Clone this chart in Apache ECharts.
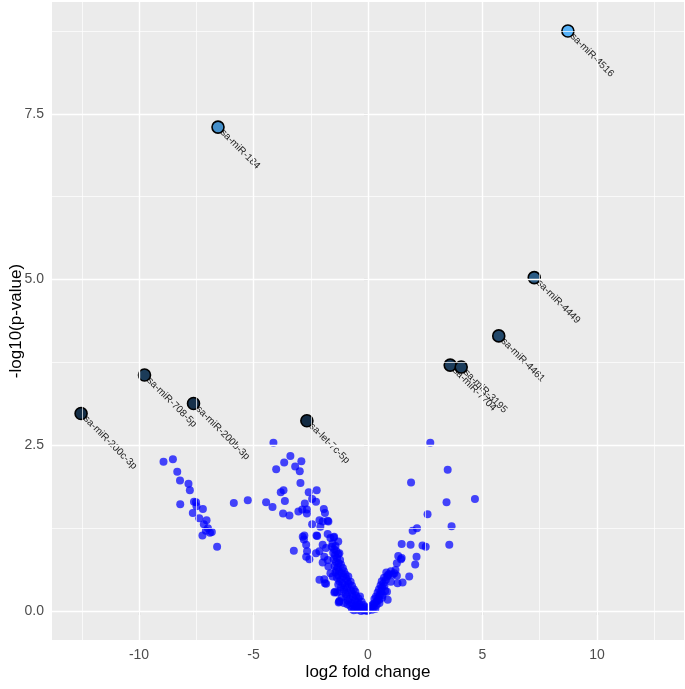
<!DOCTYPE html>
<html>
<head>
<meta charset="utf-8">
<script src="https://cdn.jsdelivr.net/npm/echarts@6/dist/echarts.min.js"></script>
<style>
  html, body { margin: 0; padding: 0; background: #fff; }
  #chart { width: 685px; height: 689px; }
</style>
</head>
<body>
<div id="chart"></div>
<script>
// labelled miRNAs (log2 fold change, -log10 p)
const hitNames = ['hsa-miR-4516', 'hsa-miR-184', 'hsa-miR-4449', 'hsa-miR-4461', 'hsa-miR-7704',
  'hsa-miR-3195', 'hsa-miR-708-5p', 'hsa-miR-200b-3p', 'hsa-miR-200c-3p', 'hsa-let-7c-5p']
const hitFc = [8.73, -6.55, 7.26, 5.71, 3.59, 4.07, -9.76, -7.62, -12.53, -2.67]
const hitP = [8.75, 7.30, 5.03, 4.15, 3.71, 3.68, 3.56, 3.13, 2.98, 2.87]

// everything else, [log2 fc, -log10 p]
const otherPoints = [
  [-8.93, 2.25], [-8.52, 2.29], [-8.33, 2.10], [-8.21, 1.97], [-7.84, 1.92], [-7.78, 1.82],
  [-8.20, 1.61], [-7.60, 1.65], [-7.51, 1.64], [-7.49, 1.58], [-7.21, 1.54], [-7.65, 1.48],
  [-7.37, 1.40], [-7.05, 1.37], [-7.17, 1.31], [-6.99, 1.25], [-7.08, 1.21], [-6.82, 1.19],
  [-6.90, 1.18], [-7.23, 1.14], [-6.59, 0.97], [-5.86, 1.63], [-5.25, 1.67],
  [-4.13, 2.54], [-3.39, 2.34], [-3.66, 2.24], [-2.91, 2.26], [-3.18, 2.18], [-4.01, 2.14],
  [-2.98, 2.11], [-2.95, 1.93], [-3.69, 1.82], [-3.81, 1.79], [-2.59, 1.79], [-2.24, 1.82],
  [-2.44, 1.69], [-2.27, 1.65], [-4.45, 1.64], [-3.63, 1.66], [-4.17, 1.57], [-2.76, 1.62],
  [-2.87, 1.53], [-3.04, 1.50], [-2.67, 1.53], [-2.67, 1.47], [-3.71, 1.47], [-3.43, 1.44],
  [-1.93, 1.54], [-1.88, 1.48], [-2.12, 1.37], [-1.76, 1.36], [-2.44, 1.31], [-2.08, 1.27],
  [-2.25, 1.14], [-2.78, 1.14], [-1.76, 1.16], [-1.48, 1.12], [-2.85, 1.12], [-3.24, 0.91],
  [-1.98, 1.35], [-1.73, 1.35], [-2.80, 1.08], [-2.70, 1.00], [-2.66, 0.90], [-2.56, 0.78],
  [-2.22, 1.13], [-1.64, 1.10], [-1.50, 1.11], [-1.98, 1.00], [-1.83, 0.95], [-1.58, 0.97],
  [-2.27, 0.87], [-2.12, 0.90], [-1.91, 0.82], [-1.76, 0.77], [-1.98, 0.73], [-1.30, 0.86],
  [-2.12, 0.47], [-1.91, 0.48], [-1.83, 0.41], [-1.47, 0.28], [-1.25, 0.14], [-1.64, 0.57],
  [-1.54, 0.52], [-1.73, 0.67], [-1.28, 0.13], [-1.44, 0.29], [-1.88, 0.42], [-2.70, 0.82],
  [2.72, 2.54], [3.48, 2.13], [1.88, 1.94], [3.43, 1.64], [4.67, 1.69], [2.60, 1.46],
  [3.65, 1.28], [2.14, 1.25], [1.95, 1.21], [1.47, 1.01], [1.86, 1.00], [2.38, 0.99],
  [2.52, 0.97], [3.55, 1.00], [1.32, 0.83], [1.47, 0.80], [2.12, 0.82], [1.44, 0.78],
  [1.26, 0.72], [2.06, 0.70], [1.80, 0.52], [1.51, 0.43], [1.29, 0.42], [0.86, 0.54],
  [1.08, 0.55], [1.26, 0.53], [1.00, 0.44], [0.83, 0.29], [0.64, 0.24], [0.49, 0.17],
  [0.86, 0.17],
  [-1.55, 1.02], [-1.42, 0.98], [-1.30, 1.05], [-1.48, 0.93], [-1.52, 0.88], [-1.38, 0.90],
  [-1.25, 0.87], [-1.44, 0.84], [-1.50, 0.78], [-1.35, 0.80], [-1.22, 0.77], [-1.40, 0.74],
  [-1.28, 0.72], [-1.46, 0.68], [-1.33, 0.66], [-1.18, 0.70], [-1.10, 0.65], [-1.38, 0.62],
  [-1.42, 0.58], [-1.27, 0.60], [-1.15, 0.57], [-1.05, 0.60], [-1.30, 0.54], [-0.98, 0.55],
  [-1.36, 0.50], [-1.20, 0.48], [-1.08, 0.52], [-0.95, 0.49], [-0.86, 0.52], [-1.25, 0.45],
  [-0.90, 0.45], [-1.30, 0.40], [-1.12, 0.42], [-1.00, 0.38], [-0.85, 0.41], [-0.76, 0.44],
  [-1.18, 0.36], [-0.92, 0.35], [-0.70, 0.38], [-1.22, 0.30], [-1.05, 0.32], [-0.88, 0.28],
  [-0.75, 0.31], [-0.62, 0.33], [-0.98, 0.26], [-0.68, 0.26], [-0.55, 0.29], [-1.35, 0.28],
  [-1.15, 0.20], [-0.95, 0.22], [-0.80, 0.18], [-0.65, 0.21], [-0.52, 0.23], [-0.42, 0.19],
  [-0.88, 0.16], [-0.58, 0.16], [-0.35, 0.22], [-1.25, 0.15], [-0.90, 0.10], [-0.72, 0.12],
  [-0.60, 0.09], [-0.48, 0.13], [-0.38, 0.10], [-0.28, 0.14], [-0.20, 0.09], [-0.78, 0.08],
  [-0.52, 0.07], [-1.05, 0.12], [-0.70, 0.03], [-0.58, 0.04], [-0.45, 0.02], [-0.35, 0.05],
  [-0.25, 0.03], [-0.15, 0.04], [-0.08, 0.02], [-0.30, 0.00], [-0.18, 0.01], [-0.05, 0.00],
  [-0.40, 0.06], [-0.62, 0.01], [-0.12, 0.06],
  [0.02, 0.01], [0.10, 0.03], [0.18, 0.02], [0.25, 0.05], [0.32, 0.03], [0.08, 0.06],
  [0.15, 0.08], [0.22, 0.10], [0.30, 0.12], [0.38, 0.09], [0.40, 0.15], [0.28, 0.18],
  [0.45, 0.20], [0.35, 0.22], [0.52, 0.25], [0.42, 0.28], [0.58, 0.30], [0.48, 0.33],
  [0.62, 0.36], [0.55, 0.39], [0.68, 0.42], [0.72, 0.38], [0.60, 0.45], [0.78, 0.47],
  [0.70, 0.50], [0.85, 0.52], [0.92, 0.56], [0.80, 0.58], [1.00, 0.60], [1.15, 0.57],
  [1.20, 0.62], [0.50, 0.12], [0.62, 0.20], [0.75, 0.30]
]

// axis breaks
const xMajor = [-10, -5, 0, 5, 10]
const xMinor = [-12.5, -7.5, -2.5, 2.5, 7.5, 12.5]
const yMajor = [0, 2.5, 5, 7.5]
const yMinor = [1.25, 3.75, 6.25, 8.75]

const FONT = 'Liberation Sans'
const hitData = hitFc.map((x, i) => [x, hitP[i], hitNames[i]])

const gridLines = [
  ...xMinor.map(v => ({ xAxis: v, lineStyle: { width: 0.7 } })),
  ...yMinor.map(v => ({ yAxis: v, lineStyle: { width: 0.7 } })),
  ...xMajor.map(v => ({ xAxis: v, lineStyle: { width: 1.4 } })),
  ...yMajor.map(v => ({ yAxis: v, lineStyle: { width: 1.4 } }))
]

const chart = echarts.init(document.getElementById('chart'), null, { renderer: 'canvas' })

chart.setOption({
  animation: false,
  textStyle: { fontFamily: FONT },
  grid: {
    left: 52, right: 1, top: 2, bottom: 49,
    containLabel: false,
    outerBoundsMode: 'none',
    show: true, backgroundColor: '#EBEBEB', borderWidth: 0
  },
  xAxis: {
    type: 'value',
    min: -13.8,
    max: 13.8,
    name: 'log2 fold change',
    nameLocation: 'middle',
    nameGap: 24,
    nameMoveOverlap: false,
    nameTextStyle: { color: '#000', fontSize: 17, fontFamily: FONT },
    axisLine: { show: false },
    splitLine: { show: false },
    axisTick: { show: true, length: 4, customValues: xMajor, lineStyle: { color: '#333', width: 1.1 } },
    axisLabel: { customValues: xMajor, margin: 8, color: '#4D4D4D', fontSize: 14, fontFamily: FONT }
  },
  yAxis: {
    type: 'value',
    min: -0.4375,
    max: 9.1875,
    name: '-log10(p-value)',
    nameLocation: 'middle',
    nameGap: 27,
    nameMoveOverlap: false,
    nameTextStyle: { color: '#000', fontSize: 17, fontFamily: FONT },
    axisLine: { show: false },
    splitLine: { show: false },
    axisTick: { show: true, length: 4, customValues: yMajor, lineStyle: { color: '#333', width: 1.1 } },
    axisLabel: {
      customValues: yMajor, margin: 8, color: '#4D4D4D', fontSize: 14, fontFamily: FONT,
      formatter: v => v.toFixed(1)
    }
  },
  visualMap: {
    show: false,
    type: 'continuous',
    seriesIndex: 3,
    dimension: 1,
    min: 2.87,
    max: 8.75,
    inRange: { color: ['#132B43', '#56B1F7'] }
  },
  series: [
    {
      // panel grid lines
      type: 'scatter',
      z: 1,
      silent: true,
      data: [],
      markLine: {
        silent: true,
        symbol: ['none', 'none'],
        label: { show: false },
        lineStyle: { color: '#FFFFFF', type: 'solid', opacity: 1 },
        data: gridLines
      }
    },
    {
      type: 'scatter',
      z: 2,
      symbolSize: 8,
      itemStyle: { color: 'rgba(0, 0, 255, 0.72)', opacity: 1 },
      data: otherPoints
    },
    {
      // names, drawn beneath the highlighted points
      type: 'scatter',
      z: 3,
      symbolSize: 1,
      itemStyle: { color: 'transparent', opacity: 1 },
      data: hitData,
      label: {
        show: true,
        position: 'inside',
        align: 'left',
        verticalAlign: 'middle',
        rotate: -45,
        fontSize: 10,
        color: '#222',
        fontFamily: FONT,
        formatter: p => p.data[2]
      }
    },
    {
      type: 'scatter',
      z: 4,
      symbolSize: 12,
      itemStyle: { borderColor: '#000', borderWidth: 1.6, opacity: 1 },
      data: hitData
    }
  ]
})
</script>
</body>
</html>
